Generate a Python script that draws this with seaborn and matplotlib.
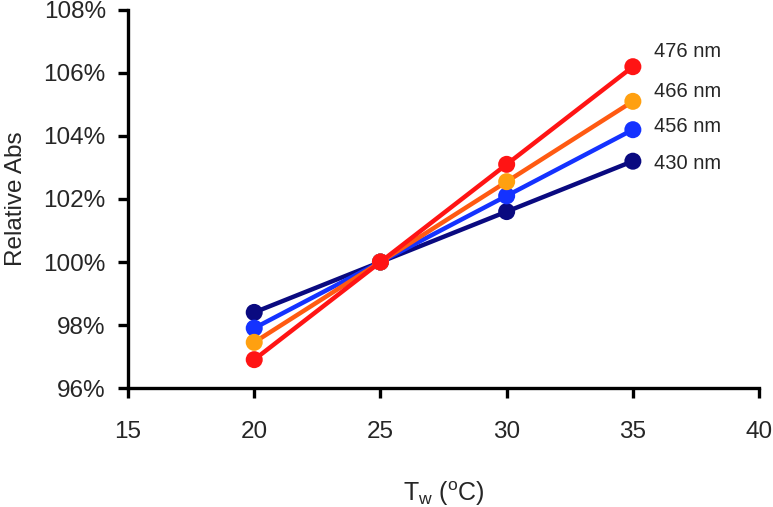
import matplotlib
matplotlib.use("Agg")
import matplotlib.pyplot as plt
import seaborn as sns
import pandas as pd
from matplotlib.ticker import FuncFormatter

# data
temps = [20, 25, 30, 35]
wavelengths = ["430 nm", "456 nm", "466 nm", "476 nm"]
abs_430 = [98.4, 100.0, 101.6, 103.2]
abs_456 = [97.9, 100.0, 102.1, 104.2]
abs_466 = [97.45, 100.0, 102.55, 105.1]
abs_476 = [96.9, 100.0, 103.1, 106.2]

line_colors = ["#0a0a80", "#1432ff", "#ff5a12", "#ff1414"]
marker_colors = ["#0a0a80", "#1432ff", "#ffa010", "#ff1414"]
label_y = [103.14, 104.29, 105.41, 106.69]

df = pd.DataFrame({
    "T": temps * 4,
    "rel": abs_430 + abs_456 + abs_466 + abs_476,
    "wl": [w for w in wavelengths for _ in temps],
})

sns.set_style("white")
plt.rcParams["font.family"] = ["Liberation Sans", "DejaVu Sans"]
plt.rcParams["mathtext.fontset"] = "custom"
plt.rcParams["mathtext.rm"] = "Liberation Sans"
plt.rcParams["xtick.labelsize"] = 17.5
plt.rcParams["ytick.labelsize"] = 17.5

fig = plt.figure(figsize=(7.73, 5.07), dpi=100)
ax = fig.add_axes([0.1656, 0.2347, 0.8164, 0.7456])

for i, wl in enumerate(wavelengths):
    sub = df[df["wl"] == wl]
    sns.lineplot(data=sub, x="T", y="rel", color=line_colors[i], linewidth=3.2, ax=ax, zorder=2 + i)
    sns.scatterplot(data=sub, x="T", y="rel", color=marker_colors[i], s=150, edgecolor="none",
                    ax=ax, zorder=2.5 + i)
    ax.text(35.85, label_y[i], wl, fontsize=14.5, va="center", ha="left")

ax.set_xlim(15, 40)
ax.set_ylim(96, 108)
ax.set_xticks([15, 20, 25, 30, 35, 40])
ax.set_yticks([96, 98, 100, 102, 104, 106, 108])
ax.yaxis.set_major_formatter(FuncFormatter(lambda v, p: f"{v:.0f}%"))
ax.tick_params(axis="both", direction="out", length=7, width=2.4, labelsize=17.5, color="black",
               left=True, bottom=True)
ax.tick_params(axis="x", pad=17)
ax.tick_params(axis="y", pad=9)
for s in ["top", "right"]:
    ax.spines[s].set_visible(False)
for s in ["left", "bottom"]:
    ax.spines[s].set_linewidth(2.4)
    ax.spines[s].set_color("black")

ax.set_xlabel(r"T$_\mathrm{w}$ ($^\mathrm{o}$C)", fontsize=18, labelpad=26)
ax.set_ylabel("Relative Abs", fontsize=17.5, labelpad=12)

plt.savefig("out.png", dpi=100)
